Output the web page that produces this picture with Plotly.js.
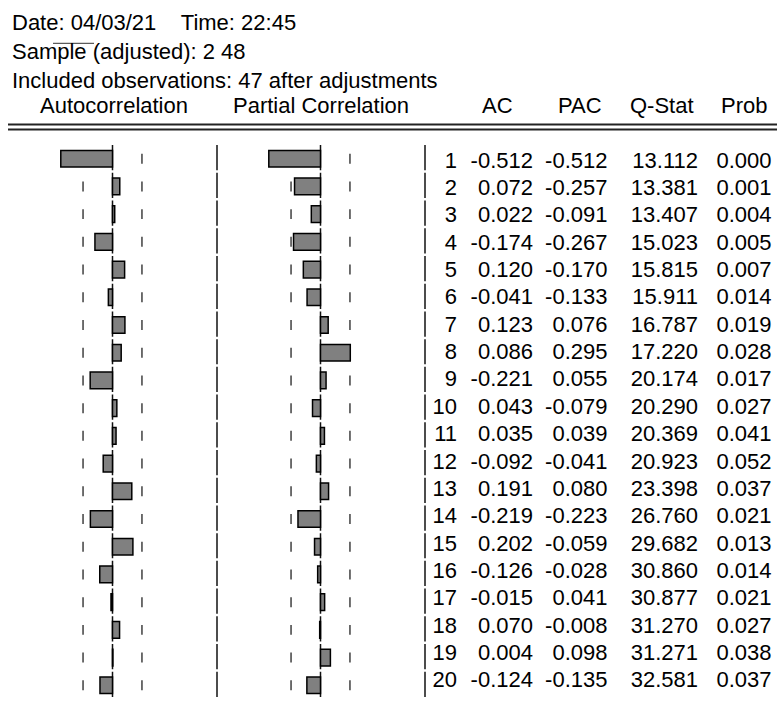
<!DOCTYPE html>
<html>
<head>
<meta charset="utf-8">
<script src="https://cdn.plot.ly/plotly-3.0.1.min.js"></script>
<style>html,body{margin:0;padding:0;background:#fff;}#chart{width:777px;height:702px;}</style>
</head>
<body>
<div id="chart"></div>
<script>
// ---- data ----
const lags  = [1,2,3,4,5,6,7,8,9,10,11,12,13,14,15,16,17,18,19,20];
const ac    = [-0.512,0.072,0.022,-0.174,0.120,-0.041,0.123,0.086,-0.221,0.043,0.035,-0.092,0.191,-0.219,0.202,-0.126,-0.015,0.070,0.004,-0.124];
const pac   = [-0.512,-0.257,-0.091,-0.267,-0.170,-0.133,0.076,0.295,0.055,-0.079,0.039,-0.041,0.080,-0.223,-0.059,-0.028,0.041,-0.008,0.098,-0.135];
const qstat = [13.112,13.381,13.407,15.023,15.815,15.911,16.787,17.220,20.174,20.290,20.369,20.923,23.398,26.760,29.682,30.860,30.877,31.270,31.271,32.581];
const prob  = [0.000,0.001,0.004,0.005,0.007,0.014,0.019,0.028,0.017,0.027,0.041,0.052,0.037,0.021,0.013,0.014,0.021,0.027,0.038,0.037];
const nObs = 47;
const headerLines = ["Date: 04/03/21\u00a0\u00a0\u00a0\u00a0Time: 22:45", "Sample (adjusted): 2 48", "Included observations: 47 after adjustments"];
const panelTitles = ["Autocorrelation", "Partial Correlation"];
const colHeaders = ["AC", "PAC", "Q-Stat", "Prob"];

// ---- layout helpers ----
const W = 777, H = 702;
const px = x => x / W;
const py = y => 1 - y / H;
const FONT = "Liberation Sans, Arial, Helvetica, sans-serif";
const bound = 2 / Math.sqrt(nObs);

const barStyle = {color: "#808080", line: {color: "#000000", width: 1.5}};
const traces = [
  {type: "bar", orientation: "h", x: ac, y: lags, xaxis: "x", yaxis: "y", width: 0.6, marker: barStyle, hoverinfo: "skip"},
  {type: "bar", orientation: "h", x: pac, y: lags, xaxis: "x2", yaxis: "y", width: 0.6, marker: barStyle, hoverinfo: "skip"}
];

// table text columns (right aligned at column edges)
const colRight = [457, 533, 607.5, 698, 771.5];
const colTexts = [
  lags.map(String),
  ac.map(v => v.toFixed(3)),
  pac.map(v => v.toFixed(3)),
  qstat.map(v => v.toFixed(3)),
  prob.map(v => v.toFixed(3))
];
colTexts.forEach((txt, i) => {
  traces.push({
    type: "scatter", mode: "text", xaxis: "x3", yaxis: "y3",
    x: lags.map(() => colRight[i]), y: lags, text: txt,
    textposition: "middle left", cliponaxis: false,
    textfont: {family: FONT, size: 22, color: "#000"}, hoverinfo: "skip"
  });
});

const shapes = [];
const lineCol = "#111";
// double rule under the header
[124.5, 129.5].forEach(y => shapes.push({type: "line", xref: "paper", yref: "paper", x0: px(8), x1: 1, y0: py(y), y1: py(y), line: {color: "#222", width: 2}}));
// small overline artefact on "Sample"
shapes.push({type: "line", xref: "paper", yref: "paper", x0: px(53), x1: px(94), y0: py(43.3), y1: py(43.3), line: {color: "#333", width: 1}});

lags.forEach(r => {
  const a = r - 0.49, b = r + 0.42;
  ["x", "x2"].forEach(xr => {
    shapes.push({type: "line", xref: xr, yref: "y", x0: 0, x1: 0, y0: a, y1: b, layer: "below", line: {color: lineCol, width: 1.5}});
    [-bound, bound].forEach(v => shapes.push({type: "line", xref: xr, yref: "y", x0: v, x1: v, y0: r - 0.18, y1: r + 0.18, layer: "below", line: {color: "#222", width: 1.3}}));
  });
  [217, 425].forEach(x => shapes.push({type: "line", xref: "paper", yref: "y", x0: px(x), x1: px(x), y0: a, y1: b, layer: "below", line: {color: lineCol, width: 1.5}}));
});

const annotations = [];
const headerY = [22.2, 51.3, 80];
headerLines.forEach((t, i) => annotations.push({xref: "paper", yref: "paper", x: px(10), y: py(headerY[i]), xanchor: "left", yanchor: "middle", text: t, showarrow: false, font: {family: FONT, size: 22, color: "#000"}}));
const panelCenters = [114, 321];
panelTitles.forEach((t, i) => annotations.push({xref: "paper", yref: "paper", x: px(panelCenters[i]), y: py(105), xanchor: "center", yanchor: "middle", text: t, showarrow: false, font: {family: FONT, size: 22, color: "#000"}}));
const colHeadCenters = [497.5, 579.5, 661.5, 743.5];
colHeaders.forEach((t, i) => annotations.push({xref: "paper", yref: "paper", x: px(colHeadCenters[i]), y: py(105), xanchor: "center", yanchor: "middle", text: t, showarrow: false, font: {family: FONT, size: 22, color: "#000"}}));

const rowTop = 144.84, rowBot = 699.16;
const txtTop = 148.5, txtBot = 695.5;
const hidden = {visible: false, fixedrange: true};
const layout = {
  width: W, height: H,
  margin: {l: 0, r: 0, t: 0, b: 0},
  paper_bgcolor: "#fff", plot_bgcolor: "rgba(0,0,0,0)",
  showlegend: false, barmode: "overlay",
  font: {family: FONT, size: 22, color: "#000"},
  xaxis:  Object.assign({domain: [px(11.5), px(213.5)], range: [-1, 1], anchor: "y"}, hidden),
  xaxis2: Object.assign({domain: [px(219.5), px(421.5)], range: [-1, 1], anchor: "y"}, hidden),
  xaxis3: Object.assign({domain: [0, 1], range: [0, W], anchor: "y3"}, hidden),
  yaxis:  Object.assign({domain: [py(rowBot), py(rowTop)], range: [20.5, 0.5], anchor: "x"}, hidden),
  yaxis3: Object.assign({domain: [py(txtBot), py(txtTop)], range: [20.5, 0.5], anchor: "x3"}, hidden),
  shapes: shapes,
  annotations: annotations
};
Plotly.newPlot("chart", traces, layout, {staticPlot: true, displayModeBar: false});
</script>
</body>
</html>
